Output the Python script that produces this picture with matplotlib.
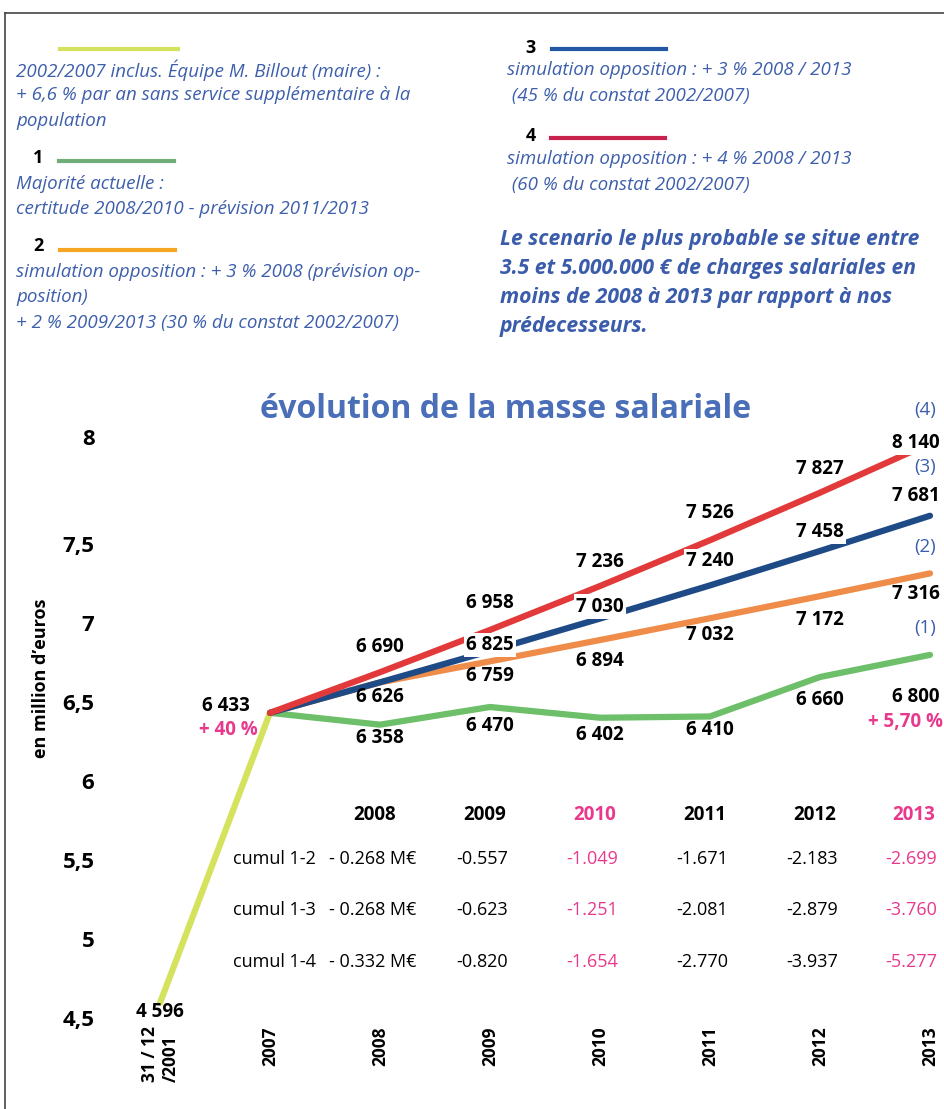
import matplotlib.pyplot as plt
import matplotlib.transforms as mtransforms
from matplotlib.lines import Line2D

W, H = 944, 1109
plt.rcParams['font.family'] = ['Open Sans', 'DejaVu Sans']

# --- données ---
x_labels = ['31 / 12\n/2001', '2007', '2008', '2009', '2010', '2011', '2012', '2013']
x_before = [0, 1]
val_before = [4.596, 6.433]
x_scen = [1, 2, 3, 4, 5, 6, 7]
scen1 = [6.433, 6.358, 6.470, 6.402, 6.410, 6.660, 6.800]
scen2 = [6.433, 6.626, 6.759, 6.894, 7.032, 7.172, 7.316]
scen3 = [6.433, 6.626, 6.825, 7.030, 7.240, 7.458, 7.681]
scen4 = [6.433, 6.690, 6.958, 7.236, 7.526, 7.827, 8.140]

ytick_vals = [4.5, 5, 5.5, 6, 6.5, 7, 7.5, 8]
ytick_labels = ['4,5', '5', '5,5', '6', '6,5', '7', '7,5', '8']

table_years = ['2008', '2009', '2010', '2011', '2012', '2013']
pink_years = ['2010', '2013']
cumul_names = ['cumul 1-2', 'cumul 1-3', 'cumul 1-4']
cumul_12 = ['- 0.268 M€', '-0.557', '-1.049', '-1.671', '-2.183', '-2.699']
cumul_13 = ['- 0.268 M€', '-0.623', '-1.251', '-2.081', '-2.879', '-3.760']
cumul_14 = ['- 0.332 M€', '-0.820', '-1.654', '-2.770', '-3.937', '-5.277']

# couleurs
c_txt = '#3d5fab'
c_pink = '#e8398d'
c_yellow = '#d4e25e'
c_green = '#6dbf69'
c_orange = '#ef8c4a'
c_blue = '#1e4a86'
c_red = '#e23a3a'


def fx(px):
    return px / W


def fy(py):
    return 1 - py / H


def fmt(v):
    return f"{int(round(v * 1000)):,}".replace(',', ' ')


fig = plt.figure(figsize=(W / 100, H / 100), dpi=100)

# cadre
fig.add_artist(Line2D([fx(5), 1], [fy(13), fy(13)], color='#444444', lw=1.2))
fig.add_artist(Line2D([fx(5), fx(5)], [fy(13), 0], color='#444444', lw=1.2))

# --- légende en haut ---
def leg_line(x0, x1, y, color):
    fig.add_artist(Line2D([fx(x0), fx(x1)], [fy(y), fy(y)], color=color, lw=3))


def leg_lines(x, y0, lines, step=25.5):
    for i, s in enumerate(lines):
        fig.text(fx(x), fy(y0 + i * step), s, color=c_txt, style='italic',
                 fontsize=13.5, ha='left', va='center')


leg_line(60, 178, 49, c_yellow)
leg_lines(16, 70, ['2002/2007 inclus. Équipe M. Billout (maire) :',
                   '+ 6,6 % par an sans service supplémentaire à la',
                   'population'])

fig.text(fx(38), fy(158), '1', fontsize=13, fontweight='bold', ha='center', va='center')
leg_line(59, 174, 161, '#6fae78')
leg_lines(16, 184, ['Majorité actuelle :',
                    'certitude 2008/2010 - prévision 2011/2013'])

fig.text(fx(38), fy(246), '2', fontsize=13, fontweight='bold', ha='center', va='center')
leg_line(60, 175, 250, '#f5a623')
leg_lines(16, 272, ['simulation opposition : + 3 % 2008 (prévision op-',
                    'position)',
                    '+ 2 % 2009/2013 (30 % du constat 2002/2007)'])

fig.text(fx(531), fy(48), '3', fontsize=13, fontweight='bold', ha='center', va='center')
leg_line(552, 666, 49, '#2257a3')
leg_lines(507, 70, ['simulation opposition : + 3 % 2008 / 2013',
                    ' (45 % du constat 2002/2007)'], step=26)

fig.text(fx(531), fy(136), '4', fontsize=13, fontweight='bold', ha='center', va='center')
leg_line(551, 665, 138, '#c8234d')
leg_lines(507, 159, ['simulation opposition : + 4 % 2008 / 2013',
                     ' (60 % du constat 2002/2007)'], step=26)

para = ['Le scenario le plus probable se situe entre',
        '3.5 et 5.000.000 € de charges salariales en',
        'moins de 2008 à 2013 par rapport à nos',
        'prédecesseurs.']
for i, s in enumerate(para):
    fig.text(fx(500), fy(240 + i * 28.7), s, color='#3b5cab', style='italic',
             fontweight='bold', fontsize=15.2, ha='left', va='center')

# titre
fig.text(fx(506), fy(410), 'évolution de la masse salariale', color='#4a6fb8',
         fontweight='bold', fontsize=23, ha='center', va='center')

fig.text(fx(41), fy(678), 'en million d’euros', rotation=90, fontweight='bold',
         fontsize=13, ha='center', va='center')

# --- graphique ---
ax = fig.add_axes([fx(100), fy(1026), (W - 100) / W, (1026 - 418) / H])
ax.set_xlim((100 - 160) / 110, (W - 160) / 110)
ax.set_ylim(4.45, 8.3)
for sp in ax.spines.values():
    sp.set_visible(False)
ax.patch.set_alpha(0)

lw = 4.5
ax.plot(x_before, val_before, color=c_yellow, lw=lw, solid_capstyle='round', zorder=2)
ax.plot(x_scen, scen1, color=c_green, lw=lw, solid_capstyle='round', zorder=2)
ax.plot(x_scen, scen2, color=c_orange, lw=lw, solid_capstyle='round', zorder=2)
ax.plot(x_scen, scen3, color=c_blue, lw=lw, solid_capstyle='round', zorder=3)
ax.plot(x_scen, scen4, color=c_red, lw=lw, solid_capstyle='round', zorder=4)

ax.set_yticks(ytick_vals, ytick_labels, fontsize=16, fontweight='bold')
ax.set_xticks(range(len(x_labels)), x_labels, rotation=90, fontsize=12.5,
              fontweight='bold')
ax.tick_params(axis='both', length=0)
ax.tick_params(axis='y', pad=4)
ax.tick_params(axis='x', pad=0)
for t in ax.get_xticklabels():
    t.set_multialignment('left')
# le "8" est placé un peu plus haut sur l'original
lbl8 = ax.get_yticklabels()[-1]
lbl8.set_transform(lbl8.get_transform()
                   + mtransforms.ScaledTranslation(0, 0.28, fig.dpi_scale_trans))


def lab(x, v, dx, dy, color='black', box=False, text=None, weight='bold'):
    kw = {}
    if box:
        kw['bbox'] = dict(facecolor='white', edgecolor='none', pad=1.5)
    ax.annotate(text if text is not None else fmt(v), (x, v), xytext=(dx, dy),
                textcoords='offset pixels', ha='center', va='center',
                fontsize=13.5, fontweight=weight, color=color, zorder=6,
                annotation_clip=False, **kw)


# étiquettes de valeurs (décalages en pixels)
red_dy = [25, 27, 24, 27, 24, 0]
blue_dy = [-15, 6, 12, 24, 19, 20]
orange_dy = [None, -15, -21, -17, -24, -21]
green_dy = [-13, -19, -17, -14, -23, -42]
for i in range(1, 7):
    dx = -14 if i == 6 else 0
    lab(x_scen[i], scen4[i], dx, red_dy[i - 1], box=(i == 6))
    lab(x_scen[i], scen3[i], dx, blue_dy[i - 1], box=(i >= 2))
    if orange_dy[i - 1] is not None:
        lab(x_scen[i], scen2[i], dx, orange_dy[i - 1])
    lab(x_scen[i], scen1[i], dx, green_dy[i - 1])

lab(x_before[1], val_before[1], -44, 7)
lab(x_before[1], val_before[1], -42, -17, color=c_pink, text='+ 40 %')
lab(x_before[0], val_before[0], 0, -9)
lab(x_scen[-1], scen1[-1], -25, -67, color=c_pink, text='+ 5,70 %')

# repères (1)..(4)
for s, v, dy in [('(4)', scen4[-1], 33), ('(3)', scen3[-1], 49),
                 ('(2)', scen2[-1], 26), ('(1)', scen1[-1], 27)]:
    lab(x_scen[-1], v, -5, dy, color=c_txt, text=s, weight='normal')

# tableau des cumuls
y_head, y_rows = 5.786, [5.507, 5.184, 4.855]
col_shift = [0, 0, 0, 0, 0, -0.1]
for j, yr in enumerate(table_years):
    col = c_pink if yr in pink_years else 'black'
    ax.text(j + 2 - 0.05 + col_shift[j], y_head, yr, ha='center', va='center',
            fontsize=13.5, fontweight='bold', color=col)
for r, (name, row) in enumerate(zip(cumul_names, [cumul_12, cumul_13, cumul_14])):
    ax.text(1.04, y_rows[r], name, ha='center', va='center', fontsize=13)
    for j, s in enumerate(row):
        col = c_pink if table_years[j] in pink_years else 'black'
        ax.text(j + 2 - 0.07 + col_shift[j], y_rows[r], s, ha='center',
                va='center', fontsize=13, color=col, clip_on=False)

fig.savefig('out.png', dpi=100)
